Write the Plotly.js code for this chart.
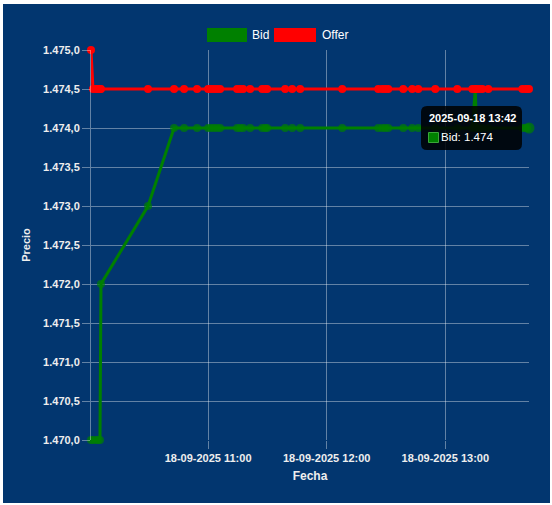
<!DOCTYPE html>
<html>
<head>
<meta charset="utf-8">
<script src="https://cdn.plot.ly/plotly-3.0.1.min.js"></script>
<style>
  html, body { margin: 0; padding: 0; background: #ffffff; }
  #chart { position: absolute; left: 3px; top: 4px; width: 547px; height: 499px; }
</style>
</head>
<body>
<div id="chart"></div>
<script>
// ---- data ----
const times = [
  '2025-09-18 10:00:46','2025-09-18 10:01:46','2025-09-18 10:03:17','2025-09-18 10:04:18',
  '2025-09-18 10:05:19','2025-09-18 10:05:49','2025-09-18 10:29:37','2025-09-18 10:42:47',
  '2025-09-18 10:47:51','2025-09-18 10:54:26','2025-09-18 11:00:00','2025-09-18 11:01:31',
  '2025-09-18 11:03:02','2025-09-18 11:04:33','2025-09-18 11:06:05','2025-09-18 11:14:41',
  '2025-09-18 11:16:12','2025-09-18 11:17:43','2025-09-18 11:21:16','2025-09-18 11:27:21',
  '2025-09-18 11:28:52','2025-09-18 11:29:52','2025-09-18 11:38:59','2025-09-18 11:42:32',
  '2025-09-18 11:46:35','2025-09-18 12:07:51','2025-09-18 12:26:04','2025-09-18 12:28:06',
  '2025-09-18 12:29:37','2025-09-18 12:31:08','2025-09-18 12:38:44','2025-09-18 12:43:17',
  '2025-09-18 12:46:19','2025-09-18 12:54:56','2025-09-18 13:06:04','2025-09-18 13:13:40',
  '2025-09-18 13:15:11','2025-09-18 13:15:42','2025-09-18 13:17:13','2025-09-18 13:18:44',
  '2025-09-18 13:21:46','2025-09-18 13:38:59','2025-09-18 13:40:30','2025-09-18 13:41:30',
  '2025-09-18 13:42:20'
];
const bid = [
  1.4700,1.4700,1.4700,1.4700,1.4700,1.4720,1.4730,1.4740,
  1.4740,1.4740,1.4740,1.4740,1.4740,1.4740,1.4740,1.4740,
  1.4740,1.4740,1.4740,1.4740,1.4740,1.4740,1.4740,1.4740,
  1.4740,1.4740,1.4740,1.4740,1.4740,1.4740,1.4740,1.4740,
  1.4740,1.4740,1.4740,1.4740,1.4745,1.4740,1.4740,1.4740,
  1.4740,1.4740,1.4740,1.4740,1.4740
];
const offer = [
  1.4750,1.4745,1.4745,1.4745,1.4745,1.4745,1.4745,1.4745,
  1.4745,1.4745,1.4745,1.4745,1.4745,1.4745,1.4745,1.4745,
  1.4745,1.4745,1.4745,1.4745,1.4745,1.4745,1.4745,1.4745,
  1.4745,1.4745,1.4745,1.4745,1.4745,1.4745,1.4745,1.4745,
  1.4745,1.4745,1.4745,1.4745,1.4745,1.4745,1.4745,1.4745,
  1.4745,1.4745,1.4745,1.4745,1.4745
];
const yTickVals = [1.4700,1.4705,1.4710,1.4715,1.4720,1.4725,1.4730,1.4735,1.4740,1.4745,1.4750];
const yTickText = ['1.470,0','1.470,5','1.471,0','1.471,5','1.472,0','1.472,5','1.473,0','1.473,5','1.474,0','1.474,5','1.475,0'];
const seriesNames = ['Bid', 'Offer'];
const hoverTitle = '2025-09-18 13:42';
const hoverLabel = 'Bid: 1.474';

// ---- styling ----
const BG = '#02366f';
const GRID = 'rgba(255,255,255,0.38)';
const TXT = '#eeeeee';
const FONT = 'Liberation Sans, Arial, Helvetica, sans-serif';
const GREEN = '#008000';
const RED = '#ff0000';

const last = times.length - 1;
const bidSizes = times.map((t, i) => i === last ? 11 : 8);

const traces = [
  { x: times, y: bid, name: seriesNames[0], type: 'scatter', mode: 'lines+markers',
    line: { color: GREEN, width: 3 }, marker: { color: GREEN, size: bidSizes, line: { width: 0 } },
    cliponaxis: false, showlegend: false },
  { x: times, y: offer, name: seriesNames[1], type: 'scatter', mode: 'lines+markers',
    line: { color: RED, width: 3 }, marker: { color: RED, size: 8, line: { width: 0 } },
    cliponaxis: false, showlegend: false }
];

// rounded-rect path in pixel units relative to an anchor
function rrect(x0, y0, x1, y1, r) {
  return `M ${x0+r},${y0} L ${x1-r},${y0} Q ${x1},${y0} ${x1},${y0+r} L ${x1},${y1-r} Q ${x1},${y1} ${x1-r},${y1} L ${x0+r},${y1} Q ${x0},${y1} ${x0},${y1-r} L ${x0},${y0+r} Q ${x0},${y0} ${x0+r},${y0} Z`;
}

const lastT = times[last], lastB = bid[last];

const shapes = [
  // tooltip box
  { type: 'path', layer: 'above', xref: 'x', yref: 'y',
    xsizemode: 'pixel', ysizemode: 'pixel', xanchor: lastT, yanchor: lastB,
    path: rrect(-108, -22, -7, 22, 6), fillcolor: 'rgba(0,0,0,0.85)', line: { width: 0 } },
  // tooltip colour box
  { type: 'rect', layer: 'above', xref: 'x', yref: 'y',
    xsizemode: 'pixel', ysizemode: 'pixel', xanchor: lastT, yanchor: lastB,
    x0: -100.5, x1: -90.5, y0: -14.5, y1: -4.5,
    fillcolor: GREEN, line: { color: '#3aa63a', width: 1 } },
  // legend boxes
  { type: 'rect', layer: 'above', xref: 'paper', yref: 'paper',
    xsizemode: 'pixel', ysizemode: 'pixel', xanchor: 0, yanchor: 1,
    x0: 116, x1: 156, y0: 8, y1: 22, fillcolor: GREEN, line: { width: 0 } },
  { type: 'rect', layer: 'above', xref: 'paper', yref: 'paper',
    xsizemode: 'pixel', ysizemode: 'pixel', xanchor: 0, yanchor: 1,
    x0: 183, x1: 225, y0: 8, y1: 22, fillcolor: RED, line: { width: 0 } }
];

const annotations = [
  { xref: 'paper', yref: 'paper', x: 0, y: 1, xanchor: 'left', yanchor: 'middle',
    xshift: 159, yshift: 15, showarrow: false, text: seriesNames[0],
    font: { family: FONT, size: 12, color: '#ffffff' } },
  { xref: 'paper', yref: 'paper', x: 0, y: 1, xanchor: 'left', yanchor: 'middle',
    xshift: 229, yshift: 15, showarrow: false, text: seriesNames[1],
    font: { family: FONT, size: 12, color: '#ffffff' } },
  { xref: 'x', yref: 'y', x: lastT, y: lastB, xanchor: 'left', yanchor: 'middle',
    xshift: -102, yshift: 10, showarrow: false, text: '<b>' + hoverTitle + '</b>',
    font: { family: FONT, size: 11, color: '#ffffff' } },
  { xref: 'x', yref: 'y', x: lastT, y: lastB, xanchor: 'left', yanchor: 'middle',
    xshift: -90, yshift: -9, showarrow: false, text: hoverLabel,
    font: { family: FONT, size: 11.5, color: '#ffffff' } }
];

const layout = {
  width: 547, height: 499,
  paper_bgcolor: BG, plot_bgcolor: BG,
  margin: { l: 88, r: 21, t: 46, b: 63 },
  showlegend: false,
  font: { family: FONT, size: 11, color: TXT },
  xaxis: {
    type: 'date',
    range: [times[0], times[last]],
    tick0: '2025-09-18 10:00', dtick: 3600000,
    tickformat: '%d-%m-%Y %H:%M',
    showgrid: true, gridcolor: GRID, gridwidth: 1,
    ticks: 'outside', ticklen: 8, tickcolor: GRID, tickwidth: 1,
    showline: false, zeroline: false,
    tickfont: { family: FONT, size: 11, color: TXT, weight: 'bold' },
    title: { text: 'Fecha', font: { family: FONT, size: 12, color: TXT, weight: 'bold' }, standoff: 8 }
  },
  yaxis: {
    range: [1.4700, 1.4750],
    tickvals: yTickVals, ticktext: yTickText,
    showgrid: true, gridcolor: GRID, gridwidth: 1,
    ticks: 'outside', ticklen: 8, tickcolor: GRID, tickwidth: 1,
    showline: true, linecolor: GRID, linewidth: 1,
    zeroline: false,
    tickfont: { family: FONT, size: 11, color: TXT, weight: 'bold' },
    title: { text: 'Precio', font: { family: FONT, size: 11, color: TXT, weight: 'bold' }, standoff: 10 }
  },
  shapes: shapes,
  annotations: annotations
};

Plotly.newPlot('chart', traces, layout, { displayModeBar: false, staticPlot: true });
</script>
</body>
</html>
